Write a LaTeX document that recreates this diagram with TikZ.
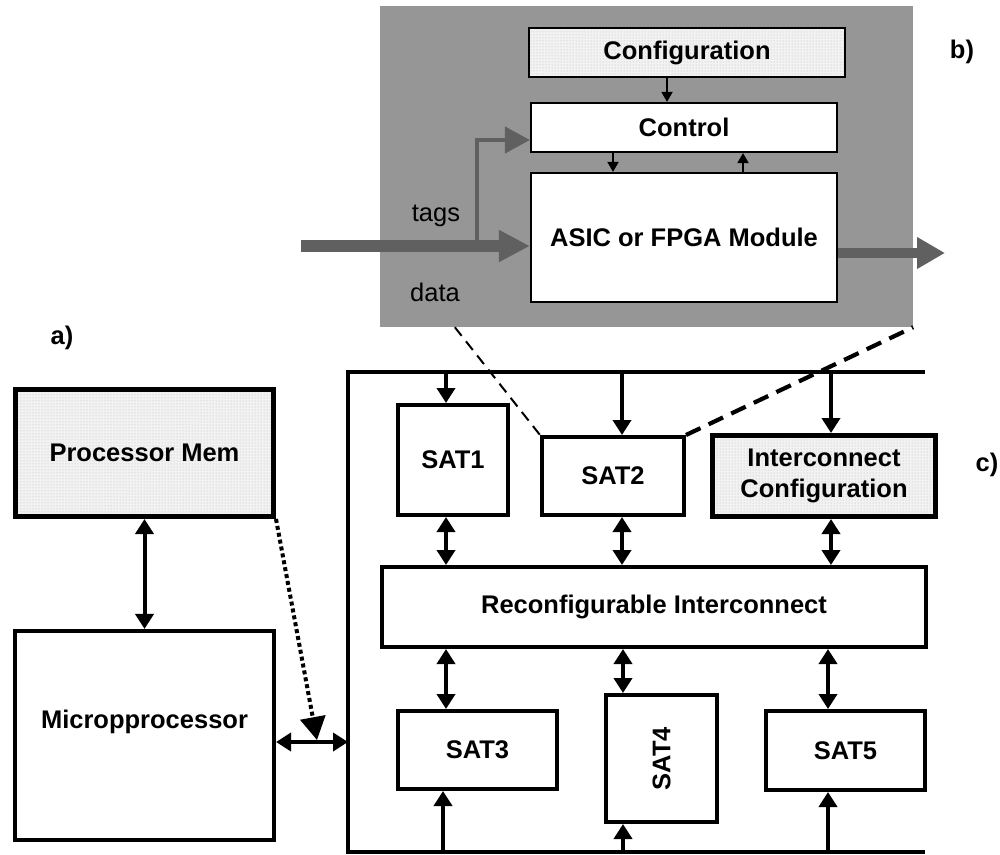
\documentclass[tikz,border=0pt]{standalone}
\usepackage{fontspec}
\setmainfont{Liberation Sans}
\usepackage{tikz}
\usetikzlibrary{arrows.meta, patterns}
\definecolor{panelgray}{RGB}{150,150,150}
\definecolor{flowgray}{RGB}{96,96,96}
\newcommand{\figfont}{\fontsize{25.5}{31}\selectfont}
\tikzset{
  box/.style={rectangle, draw=black, fill=white, line width=4pt,
    font=\figfont\bfseries, align=center, inner sep=2pt},
  thinbox/.style={box, line width=2.2pt},
  heavybox/.style={box, line width=5pt},
  dotfill/.style={preaction={fill=gray!10}, pattern=dots, pattern color=gray!55},
  arrow/.style={-{Triangle[length=15pt,width=18pt]}, line width=4pt},
  dblarrow/.style={{Triangle[length=15pt,width=18pt]}-{Triangle[length=15pt,width=18pt]}, line width=4pt},
  smallarrow/.style={-{Triangle[length=10pt,width=11pt]}, line width=1.8pt},
  bus/.style={line width=4pt},
  tag/.style={font=\figfont\bfseries}
}

\begin{document}
\begin{tikzpicture}[x=1pt, y=-1pt,
  flow/.style={draw=flowgray, line width=#1},
  zoomline/.style={line width=#1}]
  \useasboundingbox (0,0) rectangle (1000,854);

  % b) module on its gray panel
  \node[rectangle, fill=panelgray, minimum width=533pt, minimum height=321pt, inner sep=0pt] (panel) at (646.5,166.5) {};
  \node[thinbox, dotfill, minimum width=316pt, minimum height=49pt] (cfg) at (687,52.5) {Configuration};
  \node[thinbox, minimum width=306pt, minimum height=49pt] (ctrl) at (684,127.5) {Control};
  \node[thinbox, minimum width=306pt, minimum height=129pt] (asic) at (684,237.5) {ASIC or FPGA Module};
  \draw[smallarrow] ([xshift=-20pt]cfg.south) -- ([xshift=-17pt]ctrl.north);
  \draw[smallarrow] ([xshift=-71pt]ctrl.south) -- ([xshift=-71pt]asic.north);
  \draw[smallarrow] ([xshift=59pt]asic.north) -- ([xshift=59pt]ctrl.south);

  \coordinate (din) at (301,246);
  \coordinate (tagup) at (477,246);
  \coordinate (dout) at (945,253);
  \draw[flow=4.5pt, -{Triangle[length=25pt,width=26pt]}] (tagup) |- ([yshift=-12.5pt]ctrl.west);
  \draw[flow=12pt, -{Triangle[length=31pt,width=30pt]}] (din) -- (din -| asic.west);
  \draw[flow=10pt, -{Triangle[length=28pt,width=30pt]}] (asic.east |- dout) -- (dout);
  \node[font=\figfont] (tagstxt) at (436,216) {tags};
  \node[font=\figfont] (datatxt) at (435,292) {data};
  \node[tag] (lblb) at (962,52) {b)};

  % a) processor side
  \node[tag] (lbla) at (62,338) {a)};
  \node[heavybox, dotfill, minimum width=258pt, minimum height=127pt] (pmem) at (144.5,453) {Processor Mem};
  \node[box, line width=3.6pt, minimum width=259.5pt, minimum height=209.5pt, text depth=32pt] (micro) at (144.5,735.5) {Micropprocessor};
  \draw[dblarrow] (pmem) -- (micro);

  \coordinate (busin) at (348,742);
  \coordinate (join) at (317,740);
  \draw[dblarrow] (micro.east |- busin) -- (busin);
  \draw[line width=4pt, dash pattern=on 4pt off 3pt, -{Triangle[length=23pt,width=25pt]}] (pmem.south east) -- (join);

  % c) satellites on the bus
  \draw[bus] (925,372) -- (348,372) -- (348,852) -- (925,852);
  \coordinate (tap1) at (446,372);
  \coordinate (tap2) at (622,372);
  \coordinate (tap3) at (831,372);
  \coordinate (foot3) at (443,852);
  \coordinate (foot4) at (623,852);
  \coordinate (foot5) at (828,852);

  \node[box, minimum width=110pt, minimum height=110pt] (sat1) at (453,460) {SAT1};
  \node[box, minimum width=142pt, minimum height=78pt] (sat2) at (613,476) {SAT2};
  \node[heavybox, dotfill, minimum width=223pt, minimum height=81pt] (icfg) at (824,476) {Interconnect\\Configuration};
  \node[box, minimum width=544pt, minimum height=80pt] (ri) at (654,607) {Reconfigurable Interconnect};
  \node[box, minimum width=159pt, minimum height=78pt] (sat3) at (477.5,750) {SAT3};
  \node[box, minimum width=111pt, minimum height=127pt] (sat4) at (661.5,758.5) {\rotatebox{90}{SAT4}};
  \node[box, minimum width=159pt, minimum height=79pt] (sat5) at (845.5,750.5) {SAT5};
  \node[tag] (lblc) at (987,465) {c)};

  \draw[arrow] (tap1) -- (tap1 |- sat1.north);
  \draw[arrow] (tap2) -- (tap2 |- sat2.north);
  \draw[arrow] (tap3) -- (tap3 |- icfg.north);
  \draw[dblarrow] (tap1 |- sat1.south) -- (tap1 |- ri.north);
  \draw[dblarrow] (tap2 |- sat2.south) -- (tap2 |- ri.north);
  \draw[dblarrow] (tap3 |- icfg.south) -- (tap3 |- ri.north);
  \draw[dblarrow] (tap1 |- ri.south) -- (tap1 |- sat3.north);
  \draw[dblarrow] (foot4 |- ri.south) -- (foot4 |- sat4.north);
  \draw[dblarrow] (foot5 |- ri.south) -- (foot5 |- sat5.north);
  \draw[arrow] (foot3) -- (foot3 |- sat3.south);
  \draw[arrow] (foot4) -- (foot4 |- sat4.south);
  \draw[arrow] (foot5) -- (foot5 |- sat5.south);

  % zoom from SAT2 up to the module
  \draw[zoomline=2pt, dash pattern=on 11pt off 7pt] ([xshift=75pt]panel.south west) -- (sat2.north west);
  \draw[zoomline=4.2pt, dash pattern=on 16pt off 9pt] (sat2.north east) -- (panel.south east);
\end{tikzpicture}
\end{document}
